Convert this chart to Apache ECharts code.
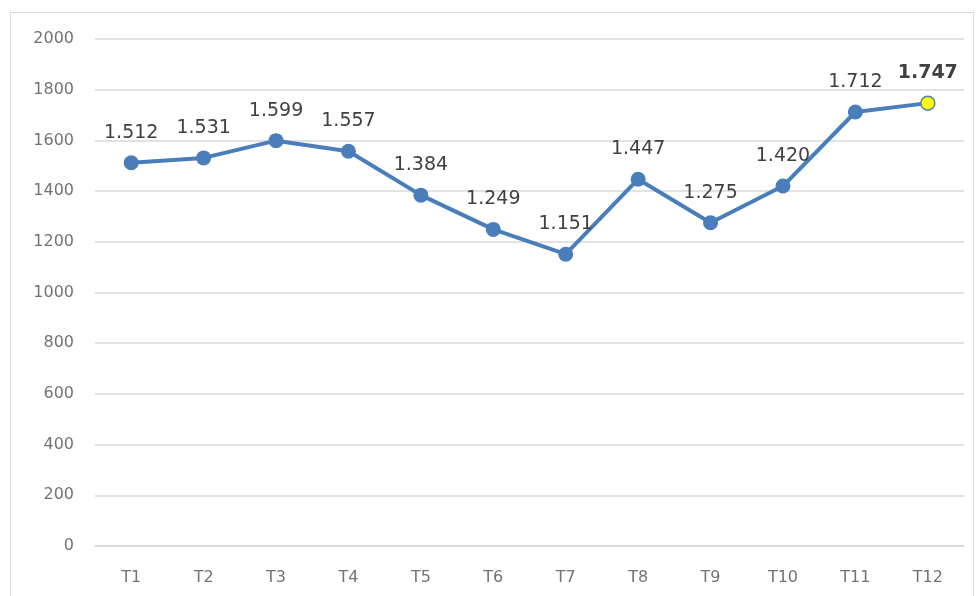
<!DOCTYPE html>
<html>
<head>
<meta charset="utf-8">
<script src="https://cdn.jsdelivr.net/npm/echarts@6/dist/echarts.min.js"></script>
<style>
html,body{margin:0;padding:0;background:#fff;}
#frame{position:absolute;left:10px;top:12px;width:964px;height:600px;border:1px solid #d9d9d9;border-bottom:none;box-sizing:border-box;}
#chart{position:absolute;left:0;top:0;width:978px;height:596px;}
</style>
</head>
<body>
<div id="frame"></div>
<div id="chart"></div>
<script>
const categories = ['T1','T2','T3','T4','T5','T6','T7','T8','T9','T10','T11','T12'];
const values = [1512,1531,1599,1557,1384,1249,1151,1447,1275,1420,1712,1747];
const yTicks = [0,200,400,600,800,1000,1200,1400,1600,1800,2000];

function fmt(v){ return String(v).replace(/\B(?=(\d{3})+(?!\d))/g,'.'); }

const lastIdx = values.length - 1;
const seriesData = values.map((v,i)=> i===lastIdx ? {
  value:v,
  itemStyle:{color:'#ffff00',borderColor:'#4a7ebb',borderWidth:1.5},
  symbolSize:14,
  label:{fontWeight:'bold'}
} : v);

const chart = echarts.init(document.getElementById('chart'));
chart.setOption({
  animation:false,
  backgroundColor:'transparent',
  grid:{left:95,right:14,top:39,bottom:50,containLabel:false},
  xAxis:{
    type:'category',
    data:categories,
    boundaryGap:true,
    axisLine:{show:true,lineStyle:{color:'#d9d9d9',width:1.5}},
    axisTick:{show:false},
    axisLabel:{color:'#737373',fontSize:16,fontFamily:'DejaVu Sans, sans-serif',margin:24}
  },
  yAxis:{
    type:'value',
    min:yTicks[0],
    max:yTicks[yTicks.length-1],
    interval:200,
    axisLine:{show:false},
    axisTick:{show:false},
    splitLine:{lineStyle:{color:'#d9d9d9',width:1.5}},
    axisLabel:{color:'#737373',fontSize:16,fontFamily:'DejaVu Sans, sans-serif',margin:21,formatter:v=>String(v)}
  },
  series:[{
    type:'line',
    data:seriesData,
    symbol:'circle',
    symbolSize:15,
    lineStyle:{color:'#4a7ebb',width:4},
    itemStyle:{color:'#4a7ebb'},
    label:{
      show:true,
      position:'top',
      distance:13,
      color:'#404040',
      fontSize:19,
      fontFamily:'DejaVu Sans, sans-serif',
      formatter:p=>fmt(p.value)
    }
  }]
});
</script>
</body>
</html>
